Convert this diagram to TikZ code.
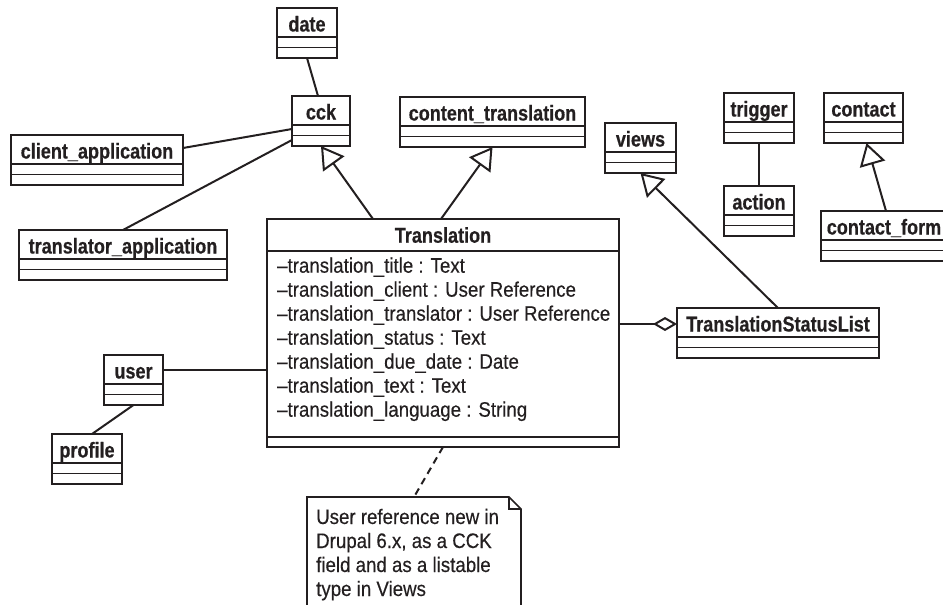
\documentclass[tikz,border=0pt]{standalone}
\usepackage{fontspec}
\setmainfont{Liberation Sans}[FakeStretch=0.89, UprightFeatures={FakeBold=0.35}, BoldFeatures={FakeStretch=0.84, FakeBold=0.5}]
\usetikzlibrary{arrows.meta,calc}
\definecolor{ink}{HTML}{231F20}
\tikzset{
  clsbox/.style={draw=ink, line width=1.7pt, rectangle, inner sep=0pt, outer sep=0pt},
  clsline/.style={draw=ink, line width=1.6pt},
  clstitle/.style={anchor=base, inner sep=0pt, text=ink, font=\fontsize{21.5}{24}\selectfont\bfseries},
  attr/.style={anchor=base west, inner sep=0pt, text=ink, font=\fontsize{21}{24}\selectfont},
  assoc/.style={draw=ink, line width=2pt},
  gen/.style={assoc, -{Triangle[open, length=22pt 0 0, width=26pt 0 0]}},
  aggr/.style={assoc, -{Diamond[open, length=24pt 0 0, width=14pt 0 0]}},
  notelink/.style={draw=ink, line width=2pt, dash pattern=on 7pt off 5pt},
}
\newcommand\umlcls[5]{%
  \node[clsbox, anchor=north west, minimum width={(#4-#2)*1pt}, minimum height=50pt] (#1) at (#2,#3) {};
  \draw[clsline] ($(#1.north west)+(0,29)$) -- ($(#1.north east)+(0,29)$);
  \draw[clsline] ($(#1.north west)+(0,39.5)$) -- ($(#1.north east)+(0,39.5)$);
  \node[clstitle] (#1-t) at ($(#1.north)+(0,23.5)$) {#5};
}
\begin{document}
\begin{tikzpicture}[x=1pt,y=-1pt]
\useasboundingbox (0,0) rectangle (943,605);
\umlcls{date}{277}{8}{337}{date}
\umlcls{cck}{292}{96}{350}{cck}
\umlcls{content}{400}{97}{585}{content\_translation}
\umlcls{client}{11}{135}{183}{client\_application}
\umlcls{translator}{19}{230}{227}{translator\_application}
\umlcls{views}{605}{123}{676}{views}
\umlcls{trigger}{724}{93}{794}{trigger}
\umlcls{action}{724}{186}{794}{action}
\umlcls{contact}{824}{93}{903}{contact}
\umlcls{cform}{821}{211}{947}{contact\_form}
\umlcls{tsl}{677}{308}{879}{TranslationStatusList}
\umlcls{user}{104}{355}{163}{user}
\umlcls{profile}{52}{434}{122}{profile}
% Translation class
\node[clsbox, anchor=north west, minimum width=352pt, minimum height=228pt] (trans) at (267,219) {};
\draw[clsline] ($(trans.north west)+(0,32)$) -- ($(trans.north east)+(0,32)$);
\draw[clsline] ($(trans.south west)+(0,-10)$) -- ($(trans.south east)+(0,-10)$);
\node[clstitle] (trans-t) at ($(trans.north)+(0,23.7)$) {Translation};
\node[attr] (a1) at (277,272.7) {\textendash translation\_title : Text};
\node[attr] (a2) at (277,296.7) {\textendash translation\_client : User Reference};
\node[attr] (a3) at (277,320.7) {\textendash translation\_translator : User Reference};
\node[attr] (a4) at (277,344.7) {\textendash translation\_status : Text};
\node[attr] (a5) at (277,368.7) {\textendash translation\_due\_date : Date};
\node[attr] (a6) at (277,392.7) {\textendash translation\_text : Text};
\node[attr] (a7) at (277,416.7) {\textendash translation\_language : String};
% note
\coordinate (note) at (307,497);
\draw[clsline, line join=miter] ($(note)+(0,120)$) -- (note) -- ($(note)+(202,0)$) -- ($(note)+(214,12)$) -- ($(note)+(214,120)$);
\draw[clsline, line join=miter] ($(note)+(202,0)$) -- ($(note)+(202,12)$) -- ($(note)+(214,12)$);
\node[attr] (n1) at (316,524) {User reference new in};
\node[attr] (n2) at (316,548) {Drupal 6.x, as a CCK};
\node[attr] (n3) at (316,572) {field and as a listable};
\node[attr] (n4) at (316,596) {type in Views};
% connectors
\draw[assoc] (date.south) -- ($(cck.north)+(-3,0)$);
\draw[assoc] ($(client.north east)+(0,13)$) -- ($(cck.north west)+(0,33)$);
\draw[assoc] (translator.north) -- ($(cck.north west)+(0,44)$);
\draw[gen] ($(trans.north west)+(106,0)$) -- (cck.south);
\draw[gen] ($(trans.north west)+(174,0)$) -- (content.south);
\draw[gen] (tsl.north) -- (views.south);
\draw[assoc] (trigger.south) -- (action.north);
\draw[gen] ($(cform.north)+(2,0)$) -- ($(contact.south)+(3,0)$);
\draw[assoc] ($(user.north east)+(0,15)$) -- ($(trans.north west)+(0,151)$);
\draw[assoc] (user.south) -- ($(profile.north)+(5,0)$);
\draw[aggr] ($(trans.north east)+(0,105)$) -- ($(tsl.north west)+(0,16)$);
\draw[notelink] ($(trans.south west)+(176,0)$) -- ($(note)+(107,0)$);
\end{tikzpicture}
\end{document}
